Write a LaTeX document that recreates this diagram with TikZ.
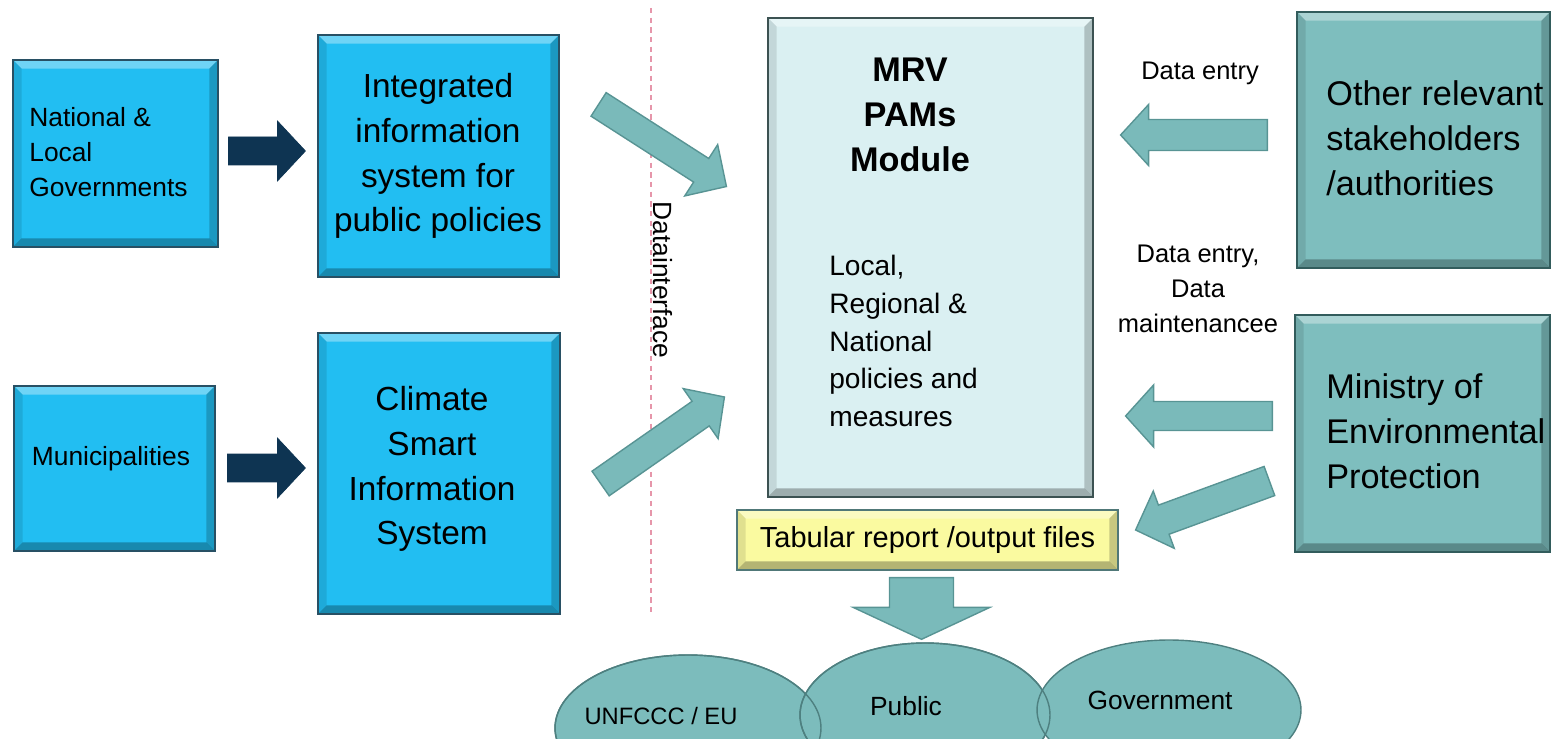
\documentclass[tikz,border=0pt]{standalone}
\usepackage{fontspec}
\setmainfont{Liberation Sans}
\usetikzlibrary{calc,shapes.geometric}
\definecolor{cyanfill}{RGB}{34,190,242}
\definecolor{cyanedge}{RGB}{40,80,100}
\definecolor{tealfill}{RGB}{126,190,190}
\definecolor{tealedge}{RGB}{50,92,92}
\definecolor{mrvfill}{RGB}{218,240,242}
\definecolor{mrvedge}{RGB}{60,82,82}
\definecolor{yelfill}{RGB}{250,250,160}
\definecolor{yeledge}{RGB}{80,120,120}
\definecolor{arrteal}{RGB}{122,186,186}
\definecolor{arrtealedge}{RGB}{88,148,148}
\definecolor{darkarr}{RGB}{14,52,82}
\definecolor{ellfill}{RGB}{124,188,188}
\definecolor{elledge}{RGB}{78,128,128}
\definecolor{pinkdash}{RGB}{230,150,170}
\def\bv{0.17cm}
\newcommand\fs[2]{\fontsize{#1}{#2}\selectfont}
\newcommand\blockarrow[6][]{%
  \path ($(#3)!#6!(#2)$) coordinate (bah);
  \filldraw[#1] ($(#2)!#4!90:(#3)$) -- ($(bah)!#4!90:(#3)$) -- ($(bah)!#5!90:(#3)$) -- (#3)
    -- ($(bah)!#5!-90:(#3)$) -- ($(bah)!#4!-90:(#3)$) -- ($(#2)!#4!-90:(#3)$) -- cycle;
}
\tikzset{
  bevel/.style={path picture={
    \fill[white,opacity=0.35] (path picture bounding box.north west) -- (path picture bounding box.north east)
      -- ([shift={(-\bv,-\bv)}]path picture bounding box.north east) -- ([shift={(\bv,-\bv)}]path picture bounding box.north west) -- cycle;
    \fill[black,opacity=0.28] (path picture bounding box.south west) -- (path picture bounding box.south east)
      -- ([shift={(-\bv,\bv)}]path picture bounding box.south east) -- ([shift={(\bv,\bv)}]path picture bounding box.south west) -- cycle;
    \fill[black,opacity=0.10] (path picture bounding box.north west) -- (path picture bounding box.south west)
      -- ([shift={(\bv,\bv)}]path picture bounding box.south west) -- ([shift={(\bv,-\bv)}]path picture bounding box.north west) -- cycle;
    \fill[black,opacity=0.20] (path picture bounding box.north east) -- (path picture bounding box.south east)
      -- ([shift={(-\bv,\bv)}]path picture bounding box.south east) -- ([shift={(-\bv,-\bv)}]path picture bounding box.north east) -- cycle;
  }},
  boxbase/.style={rectangle, inner sep=0pt, line width=0.7pt, bevel},
  cyanbox/.style={boxbase, fill=cyanfill, draw=cyanedge},
  tealbox/.style={boxbase, fill=tealfill, draw=tealedge},
  mrvbox/.style={boxbase, fill=mrvfill, draw=mrvedge},
  yelbox/.style={boxbase, fill=yelfill, draw=yeledge},
  txt/.style={inner sep=0pt, text=black},
  darkarrow/.style={fill=darkarr, draw=darkarr, line width=0.4pt},
  tealarrow/.style={fill=arrteal, draw=arrtealedge, line width=0.8pt},
  ell/.style={ellipse, inner sep=0pt, fill=ellfill, draw=elledge, line width=0.8pt},
  elloutline/.style={draw=elledge, line width=0.8pt},
  dashline/.style={draw=pinkdash, line width=0.8pt, dash pattern=on 3pt off 2.5pt},
}
\begin{document}
\begin{tikzpicture}[x=0.02cm, y=-0.02cm]
\useasboundingbox (0,0) rectangle (1551,739);
\clip (0,0) rectangle (1551,739);

% dashed separator
\draw[dashline] (651,8) -- (651,612);
\node[txt, rotate=-90, font=\fs{15}{18}] (dataint) at (663,280) {Datainterface};

% left boxes
\node[cyanbox, minimum width=4.1cm, minimum height=3.74cm] (nat) at (115.5,153.5) {};
\node[cyanbox, minimum width=4.82cm, minimum height=4.84cm] (integ) at (438.5,156) {};
\node[cyanbox, minimum width=4.02cm, minimum height=3.3cm] (muni) at (114.5,468.5) {};
\node[cyanbox, minimum width=4.84cm, minimum height=5.62cm] (clim) at (439,473.5) {};

\node[txt, anchor=west, align=left, font=\fs{15}{19.8}] (natT) at (29,152) {National \&\\Local\\Governments};
\node[txt, align=center, font=\fs{19}{25.5}] (integT) at (438,156) {Integrated\\information\\system for\\public policies};
\node[txt, font=\fs{15}{18}] (muniT) at (111,459) {Municipalities};
\node[txt, align=center, font=\fs{19}{25.5}] (climT) at (432,469) {Climate\\Smart\\Information\\System};

% central box
\node[mrvbox, minimum width=6.5cm, minimum height=9.58cm] (mrv) at (930.5,257.5) {};
\node[txt, align=center, font=\bfseries\fs{19.5}{25.5}] (mrvT) at (910,115) {MRV\\PAMs\\Module};
\node[txt, anchor=west, align=left, font=\fs{16}{21.5}] (mrvB) at (829,341) {Local,\\Regional \&\\National\\policies and\\measures};

% right boxes
\node[tealbox, minimum width=5.06cm, minimum height=5.12cm] (oth) at (1423.5,140) {};
\node[tealbox, minimum width=5.1cm, minimum height=4.74cm] (mini) at (1422.5,433.5) {};
\node[txt, anchor=west, align=left, font=\fs{19.5}{25.5}] (othT) at (1326,138) {Other relevant\\stakeholders\\/authorities};
\node[txt, anchor=west, align=left, font=\fs{19.5}{25.5}] (miniT) at (1326,431) {Ministry of\\Environmental\\Protection};

\node[txt, font=\fs{14.5}{19.8}] (de1) at (1200,73) {Data entry};
\node[txt, align=center, font=\fs{14.5}{19.8}] (de2) at (1198,289) {Data entry,\\Data\\maintenancee};

% output box
\node[yelbox, minimum width=7.62cm, minimum height=1.2cm, font=\fs{16.5}{19}] (tab) at (927.5,540) {Tabular report /output files};

% ellipses
\node[ell, minimum width=5.32cm, minimum height=2.92cm] (unf) at (688,728) {};
\node[ell, minimum width=5.0cm, minimum height=2.88cm] (pub) at (925,715) {};
\node[ell, minimum width=5.28cm, minimum height=2.8cm] (gov) at (1169,710) {};
\draw[elloutline] (unf.center) ellipse [x radius=2.66cm, y radius=1.46cm];
\draw[elloutline] (pub.center) ellipse [x radius=2.5cm, y radius=1.44cm];
\node[txt, font=\fs{13.5}{17}] (unfT) at (661,716) {UNFCCC / EU};
\node[txt, font=\fs{15}{17}] (pubT) at (906,706) {Public};
\node[txt, font=\fs{15}{17}] (govT) at (1160,700) {Government};

% dark arrows
\coordinate (a1s) at ([xshift=0.2cm]nat.east |- 0,151);
\coordinate (a1e) at ([xshift=-0.24cm]a1s -| integ.west);
\blockarrow[darkarrow]{a1s}{a1e}{0.28cm}{0.6cm}{0.56cm}
\coordinate (a2s) at ([xshift=0.24cm]muni.east |- 0,468);
\coordinate (a2e) at ([xshift=-0.24cm]a2s -| clim.west);
\blockarrow[darkarrow]{a2s}{a2e}{0.28cm}{0.6cm}{0.56cm}

% teal arrows into MRV
\coordinate (t1s) at ($(integ.north east)+(39,70)$);
\coordinate (t1e) at ($(mrv.west)+(-41,-71)$);
\blockarrow[tealarrow]{t1s}{t1e}{0.28cm}{0.61cm}{0.6cm}
\coordinate (t2s) at ($(clim.east)+(40,10)$);
\coordinate (t2e) at ($(mrv.west)+(-43,139.5)$);
\blockarrow[tealarrow]{t2s}{t2e}{0.3cm}{0.61cm}{0.58cm}
\coordinate (t3s) at ($(oth.west)+(-29,-5)$);
\coordinate (t3e) at ([xshift=0.54cm]t3s -| mrv.east);
\blockarrow[tealarrow]{t3s}{t3e}{0.31cm}{0.61cm}{0.56cm}
\coordinate (t4s) at ($(mini.west)+(-22,-17.5)$);
\coordinate (t4e) at ([xshift=0.64cm]t4s -| mrv.east);
\blockarrow[tealarrow]{t4s}{t4e}{0.29cm}{0.62cm}{0.56cm}
\coordinate (t5s) at ($(mini.west)+(-25,47.5)$);
\coordinate (t5e) at ($(tab.east)+(17,-10)$);
\blockarrow[tealarrow]{t5s}{t5e}{0.31cm}{0.61cm}{0.6cm}
\coordinate (t6s) at ($(tab.south)+(-6,7)$);
\coordinate (t6e) at ([yshift=0.06cm]t6s |- pub.north);
\blockarrow[tealarrow]{t6s}{t6e}{0.64cm}{1.37cm}{0.64cm}
\end{tikzpicture}
\end{document}
